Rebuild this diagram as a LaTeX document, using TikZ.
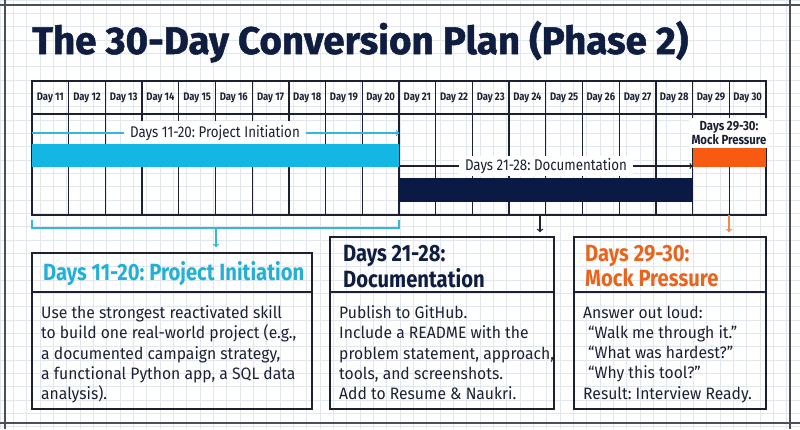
\documentclass[tikz,border=0pt]{standalone}
\usepackage{fontspec}
\setmainfont{Fira Sans}
\newfontfamily\narrowfont{Fira Sans}[FakeStretch=0.86]
\newfontfamily\bodyfont{Fira Sans}[FakeStretch=0.95]
\newfontfamily\titlefont{Fira Sans}[FakeBold=1.3]
\usetikzlibrary{fit,positioning}
\definecolor{ink}{HTML}{1B2133}
\definecolor{navy}{HTML}{0F1D40}
\definecolor{navybar}{HTML}{0B1A45}
\definecolor{cyanbar}{HTML}{14B6E3}
\definecolor{cyantext}{HTML}{22B0D6}
\definecolor{cyanline}{HTML}{35B8D8}
\definecolor{orangebar}{HTML}{F95A12}
\definecolor{orangetext}{HTML}{E8651E}
\definecolor{orangeline}{HTML}{F08A50}
\definecolor{gridgrey}{HTML}{E2E7EE}
\definecolor{framegrey}{HTML}{4A4F5A}
\begin{document}
\frenchspacing
\begin{tikzpicture}[x=1pt,y=-1pt,
    every node/.style={inner sep=0pt,text=ink},
    gridline/.style={draw=gridgrey,line width=0.6pt},
    frameline/.style={draw=framegrey,line width=1.2pt},
    tableline/.style={draw=ink,line width=1.3pt},
    dayhead/.style={font=\narrowfont\bfseries\fontsize{11}{12}\selectfont},
    barlabel/.style={fill=white,inner xsep=6pt,inner ysep=4pt,font=\narrowfont\fontsize{15.5}{18}\selectfont},
    smalllabel/.style={fill=white,inner xsep=3pt,inner ysep=3pt,align=center,font=\narrowfont\bfseries\fontsize{13.2}{12.5}\selectfont},
    bar/.style={inner sep=0pt,draw=none},
    cardbox/.style={draw=ink,line width=1.4pt,inner sep=0pt},
    cardtitle/.style={anchor=north west,align=left,font=\narrowfont\bfseries\fontsize{23.5}{23}\selectfont},
    cardtext/.style={anchor=north west,align=left,font=\bodyfont\fontsize{16.5}{20.3}\selectfont},
    drop/.style={->,line width=1.3pt}
  ]
  \useasboundingbox (0,0) rectangle (800,429);
  \foreach \gx in {0,13.33,...,800} \draw[gridline] (\gx,0) -- (\gx,429);
  \foreach \gy in {0,13.33,...,429} \draw[gridline] (0,\gy) -- (800,\gy);
  \draw[frameline] (0,5) -- (800,5);
  \draw[frameline] (5,0) -- (5,429);
  \draw[frameline] (0,423) -- (800,423);
  \draw[frameline] (790,0) -- (790,429);

  \node[anchor=base west,text=navy,font=\titlefont\bfseries\fontsize{38.5}{40}\selectfont] (title) at (32,54)
    {The 30-Day Conversion Plan (Phase 2)};

  \draw[tableline] (32,81) rectangle (766,215);
  \draw[tableline] (32,114) -- (766,114);
  \foreach \i in {1,...,19} \draw[tableline] ({32+\i*36.7},81) -- ({32+\i*36.7},215);
  \foreach \d in {11,...,30} \node[dayhead] (day\d) at ({32+(\d-10.5)*36.7},97.5) {Day \d};

  \node[bar,fill=cyanbar,fit={(32,144) (399,167)}] (initbar) {};
  \node[bar,fill=navybar,fit={(399,178) (693,202)}] (docbar) {};
  \node[bar,fill=orangebar,fit={(693,148) (766,167)}] (mockbar) {};

  \coordinate (initline) at (215,133);
  \coordinate (docline) at (546,166);
  \draw[->,cyanline,line width=1.2pt] (initbar.west |- initline) -- (initbar.east |- initline);
  \draw[->,ink,line width=1.2pt] (docbar.west |- docline) -- (mockbar.west |- docline);
  \node[barlabel] (initlabel) at (initline) {Days 11-20: Project Initiation};
  \node[barlabel,inner ysep=2pt] (doclabel) at (docline) {Days 21-28: Documentation};
  \node[smalllabel] (mocklabel) at (729,133) {Days 29-30:\\Mock Pressure};
  \node[bar,fill=cyanbar,fit={(32,144) (399,167)}] {};
  \node[bar,fill=orangebar,fit={(693,148) (766,167)}] {};

  % cards
  \node[cardbox,fit={(32,253) (312,292)}] (inithead) {};
  \node[cardbox,fit={(32,292) (312,409)}] (initbody) {};
  \node[cardbox,fit={(330,237) (554,292)}] (dochead) {};
  \node[cardbox,fit={(330,292) (554,409)}] (docbody) {};
  \node[cardbox,fit={(574,237) (766,292)}] (mockhead) {};
  \node[cardbox,fit={(574,292) (766,409)}] (mockbody) {};

  \node[cardtitle,anchor=base west,text=cyantext] (inittitle) at (43,280.6) {Days 11-20: Project Initiation};
  \node[cardtitle,text=navy] (doctitle) at (343,245.5) {Days 21-28:\\Documentation};
  \node[cardtitle,text=orangetext] (mocktitle) at (585,245.5) {Days 29-30:\\Mock Pressure};
  \node[cardtext] (inittext) at (41,305.5)
    {Use the strongest reactivated skill\\to build one real-world project (e.g.,\\a documented campaign strategy,\\a functional Python app, a SQL data\\analysis).};
  \node[cardtext] (doctext) at (339,305.5)
    {Publish to GitHub.\\Include a README with the\\problem statement, approach,\\tools, and screenshots.\\Add to Resume \& Naukri.};
  \node[cardtext] (mocktext) at (583,305.5)
    {Answer out loud:\\\hspace*{5pt}“Walk me through it.”\\\hspace*{5pt}“What was hardest?”\\\hspace*{5pt}“Why this tool?”\\Result: Interview Ready.};

  \coordinate (bracketl) at (32,220);
  \coordinate (bracketr) at (399,220);
  \coordinate (bracketmid) at (216,228);
  \draw[cyanline,line width=1.3pt] (bracketl) -- ++(0,8) -| (bracketr);
  \draw[drop,cyanline,shorten >=5pt] (bracketmid) -- (bracketmid |- inithead.north);
  \coordinate (docdrop) at (540,215);
  \coordinate (mockdrop) at (729,215);
  \draw[drop,ink,shorten >=4pt] (docdrop) -- (docdrop |- dochead.north);
  \draw[drop,orangeline,shorten >=4pt] (mockdrop) -- (mockdrop |- mockhead.north);
\end{tikzpicture}
\end{document}
